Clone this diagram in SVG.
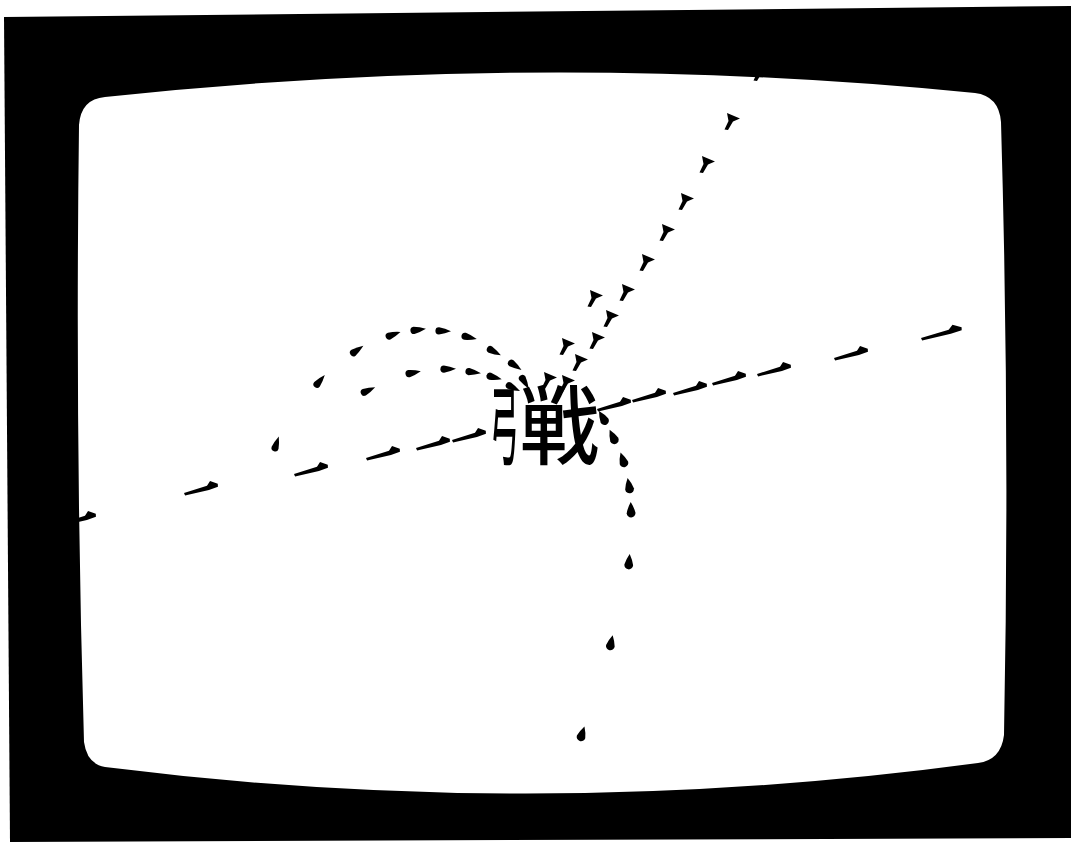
<svg xmlns="http://www.w3.org/2000/svg" width="1071" height="850" viewBox="0 0 1071 850">
<style>
.ink{fill:#000}
.kanji{font-family:"Noto Sans CJK JP","Noto Sans CJK SC",sans-serif;font-size:86px;font-weight:500;fill:#000}
</style>
<defs>
<path id="hd" d="M0,0 L24,-2 L28,-6 L35,-1.8 L34.5,1.2 L25,2.4 L0.5,2.6 Z"/>
<path id="dm" d="M0,0 L13,5.5 L6,8.5 L1,17 L-2.5,16.5 L1.5,8 Z"/>
<path id="td" d="M-9,0 Q-3,-2.6 3,-3.6 A3.6,3.6 0 0 1 3,3.6 Q-3,2.6 -9,0 Z"/>
<path id="td2" d="M-8,0 Q-2,-3.4 3,-4.4 A4.4,4.4 0 0 1 3,4.4 Q-2,3.4 -8,0 Z"/>
</defs>
<rect width="1071" height="850" fill="#fff"/>
<g id="frame">
<polygon points="4,17 1071,6 1071,838 10,842" fill="#000"/>
<path id="screen" d="M105,97 Q540,50 975,93 Q999,96 1001,122 Q1010,430 1004,735 Q1001,760 978,763 Q540,822 105,767 Q87,764 84,742 Q75,440 79,125 Q81,99 105,97 Z" fill="#fff"/>
</g>
<g id="connectors" class="ink">
<g id="line-horizontal">
<use href="#hd" transform="translate(62,523) rotate(-12.5)"/>
<use href="#hd" transform="translate(184,493) rotate(-12.5)"/>
<use href="#hd" transform="translate(294,474) rotate(-12.5)"/>
<use href="#hd" transform="translate(366,458) rotate(-12.5)"/>
<use href="#hd" transform="translate(416,448) rotate(-12.5)"/>
<use href="#hd" transform="translate(452,440) rotate(-12.5)"/>
<use href="#hd" transform="translate(597,409) rotate(-12.5)"/>
<use href="#hd" transform="translate(632,400) rotate(-12.5)"/>
<use href="#hd" transform="translate(673,393) rotate(-12.5)"/>
<use href="#hd" transform="translate(712,383) rotate(-12.5)"/>
<use href="#hd" transform="translate(757,374) rotate(-12.5)"/>
<use href="#hd" transform="translate(834,358) rotate(-12.5)"/>
<use href="#hd" transform="translate(921,338) rotate(-12.5) scale(1.2,1)"/>
</g>
<g id="line-diagonal">
<use href="#dm" transform="translate(756,64)"/>
<use href="#dm" transform="translate(727,113)"/>
<use href="#dm" transform="translate(702,156)"/>
<use href="#dm" transform="translate(681,193)"/>
<use href="#dm" transform="translate(662,224)"/>
<use href="#dm" transform="translate(642,254)"/>
<use href="#dm" transform="translate(622,284)"/>
<use href="#dm" transform="translate(590,290)"/>
<use href="#dm" transform="translate(606,310)"/>
<use href="#dm" transform="translate(592,332)"/>
<use href="#dm" transform="translate(562,338)"/>
<use href="#dm" transform="translate(575,354)"/>
<use href="#dm" transform="translate(544,372)"/>
<use href="#dm" transform="translate(562,375)"/>
</g>
<g id="arc-outer">
<use href="#td" transform="translate(524,381) rotate(-122)"/>
<use href="#td" transform="translate(514,365) rotate(-146)"/>
<use href="#td" transform="translate(493,351) rotate(-151)"/>
<use href="#td" transform="translate(468,337) rotate(-167)"/>
<use href="#td" transform="translate(442,331) rotate(-178)"/>
<use href="#td" transform="translate(417,330) rotate(172)"/>
<use href="#td" transform="translate(392,335) rotate(160)"/>
<use href="#td" transform="translate(356,351) rotate(145)"/>
<use href="#td" transform="translate(319,382) rotate(130)"/>
<use href="#td" transform="translate(276,445) rotate(108)"/>
</g>
<g id="arc-inner">
<use href="#td" transform="translate(512,387) rotate(-153)"/>
<use href="#td" transform="translate(493,377) rotate(-165)"/>
<use href="#td" transform="translate(472,372) rotate(-172)"/>
<use href="#td" transform="translate(447,369) rotate(178)"/>
<use href="#td" transform="translate(412,373) rotate(168)"/>
<use href="#td" transform="translate(367,391) rotate(155)"/>
</g>
<g id="arc-down">
<use href="#td2" transform="translate(603,418) rotate(60)"/>
<use href="#td2" transform="translate(613,437) rotate(65)"/>
<use href="#td2" transform="translate(623,460) rotate(72)"/>
<use href="#td2" transform="translate(629,486) rotate(80)"/>
<use href="#td2" transform="translate(631,510) rotate(88)"/>
<use href="#td2" transform="translate(629,562) rotate(95)"/>
<use href="#td2" transform="translate(611,643) rotate(102)"/>
<use href="#td2" transform="translate(582,734) rotate(108)"/>
</g>
</g>
<g id="character">
<text class="kanji" transform="translate(490,458) scale(0.33,1)">弓</text>
<text class="kanji" transform="translate(520,458) scale(0.92,1)">戦</text>
</g>
</svg>
